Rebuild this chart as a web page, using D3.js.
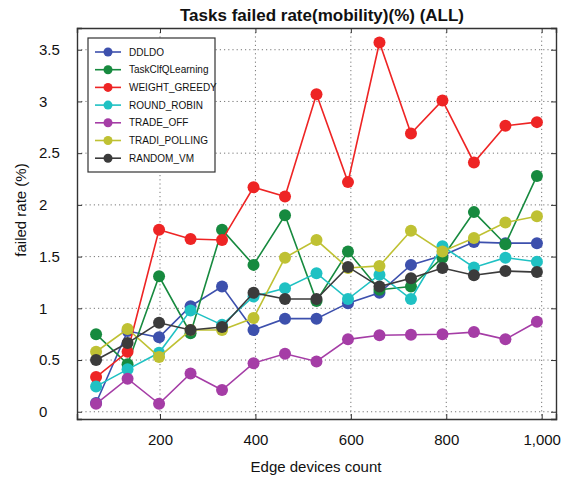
<!DOCTYPE html>
<html>
<head>
<meta charset="utf-8">
<script src="https://cdn.jsdelivr.net/npm/d3@7"></script>
<style>
body{margin:0;background:#fff;}
svg text{font-family:Arial,"Liberation Sans",sans-serif;}
</style>
</head>
<body>
<div id="chart"></div>
<script>
var width=571, height=477;
var left=77, right=556, top_=28, bottom=419;

// data
var devices=[66,132,198,264,330,396,462,528,594,660,726,792,858,924,990];
var ddldo=[0.085,0.78,0.72,1.02,1.21,0.79,0.90,0.90,1.05,1.15,1.42,1.51,1.64,1.63,1.63];
var taskClf=[0.75,0.46,1.31,0.76,1.76,1.42,1.90,1.07,1.55,1.18,1.21,1.49,1.93,1.62,2.28];
var weightGreedy=[0.335,0.58,1.76,1.67,1.66,2.17,2.08,3.07,2.22,3.57,2.69,3.01,2.41,2.765,2.80];
var roundRobin=[0.245,0.41,0.57,0.98,0.84,1.115,1.195,1.34,1.09,1.325,1.09,1.60,1.395,1.49,1.45];
var tradeOff=[0.077,0.32,0.077,0.37,0.21,0.47,0.56,0.486,0.70,0.74,0.745,0.75,0.77,0.70,0.87];
var tradiPolling=[0.58,0.80,0.53,0.79,0.79,0.906,1.49,1.66,1.39,1.41,1.75,1.55,1.68,1.83,1.89];
var randomVm=[0.50,0.664,0.86,0.79,0.82,1.15,1.09,1.09,1.40,1.21,1.29,1.39,1.32,1.36,1.35];

var seriesNames=['DDLDO','TaskClfQLearning','WEIGHT_GREEDY','ROUND_ROBIN','TRADE_OFF','TRADI_POLLING','RANDOM_VM'];
var seriesValues=[ddldo,taskClf,weightGreedy,roundRobin,tradeOff,tradiPolling,randomVm];
var seriesColors=['#3d50ad','#178a3f','#ee2424','#1fc1c3','#a53da6','#bfc133','#3b3b3b'];

var xTicks=[200,400,600,800,1000];
var xTickLabels=['200','400','600','800','1,000'];
var yTicks=[0,0.5,1,1.5,2,2.5,3,3.5];
var yTickLabels=['0','0.5','1','1.5','2','2.5','3','3.5'];

var svg=d3.select('#chart').append('svg')
  .attr('width',width)
  .attr('height',height);

var x=d3.scaleLinear().domain([26,1030]).range([left,right]);
var y=d3.scaleLinear().domain([-0.07,3.71]).range([bottom,top_]);

// grid
svg.append('g').selectAll('line').data(yTicks).enter().append('line')
  .attr('x1',left).attr('x2',right)
  .attr('y1',function(d){return y(d);}).attr('y2',function(d){return y(d);})
  .attr('stroke','#777').attr('stroke-width',1).attr('stroke-dasharray','1.2,3');
svg.append('g').selectAll('line').data(xTicks).enter().append('line')
  .attr('y1',top_).attr('y2',bottom)
  .attr('x1',function(d){return x(d);}).attr('x2',function(d){return x(d);})
  .attr('stroke','#777').attr('stroke-width',1).attr('stroke-dasharray','1.2,3');

// axes (inward ticks)
var xAxis=d3.axisBottom(x).tickValues(xTicks).tickSize(-5).tickFormat(function(d,i){return xTickLabels[i];});
var yAxis=d3.axisLeft(y).tickValues(yTicks).tickSize(-5).tickFormat(function(d,i){return yTickLabels[i];});
var gx=svg.append('g').attr('transform','translate(0,'+bottom+')').call(xAxis);
var gy=svg.append('g').attr('transform','translate('+left+',0)').call(yAxis);
svg.append('g').attr('transform','translate(0,'+top_+')')
  .call(d3.axisTop(x).tickValues(xTicks).tickSize(-5).tickFormat(''));
svg.append('g').attr('transform','translate('+right+',0)')
  .call(d3.axisRight(y).tickValues(yTicks).tickSize(-5).tickFormat(''));
svg.selectAll('.domain').attr('stroke','#333').attr('stroke-width',1.4);
svg.selectAll('.tick line').attr('stroke','#333');
gx.selectAll('text').attr('font-size',15).attr('fill','#111').attr('dy','1.5em');
// matlab-style: tick labels left aligned
gy.selectAll('text').attr('font-size',15).attr('fill','#111')
  .attr('text-anchor','start').attr('x',39-left);

// lines and markers
var line=d3.line()
  .x(function(d,i){return x(devices[i]);})
  .y(function(d){return y(d);});

seriesValues.forEach(function(vals,k){
  var g=svg.append('g');
  g.append('path').datum(vals)
    .attr('d',line)
    .attr('fill','none')
    .attr('stroke',seriesColors[k])
    .attr('stroke-width',1.6);
  g.selectAll('circle').data(vals).enter().append('circle')
    .attr('cx',function(d,i){return x(devices[i]);})
    .attr('cy',function(d){return y(d);})
    .attr('r',6)
    .attr('fill',seriesColors[k]);
});

// legend
var legend=svg.append('g').attr('transform','translate(88,38)');
legend.append('rect')
  .attr('width',127).attr('height',134)
  .attr('fill','#fff').attr('stroke','#333').attr('stroke-width',1.2);
seriesNames.forEach(function(name,k){
  var ly=14+k*17.7;
  legend.append('line').attr('x1',7).attr('x2',33).attr('y1',ly).attr('y2',ly)
    .attr('stroke',seriesColors[k]).attr('stroke-width',1.6);
  legend.append('circle').attr('cx',20).attr('cy',ly).attr('r',4.5).attr('fill',seriesColors[k]);
  legend.append('text').attr('x',41).attr('y',ly).attr('dy','0.35em')
    .attr('font-size',10).attr('fill','#111').text(name);
});

// titles
svg.append('text').attr('x',322).attr('y',21).attr('text-anchor','middle')
  .attr('font-size',17).attr('font-weight','bold').attr('fill','#111')
  .text('Tasks failed rate(mobility)(%) (ALL)');
svg.append('text').attr('x',316).attr('y',472).attr('text-anchor','middle')
  .attr('font-size',15).attr('fill','#111').text('Edge devices count');
svg.append('text').attr('transform','translate(26,210) rotate(-90)').attr('text-anchor','middle')
  .attr('font-size',15).attr('fill','#111').text('failed rate (%)');
</script>
</body>
</html>
